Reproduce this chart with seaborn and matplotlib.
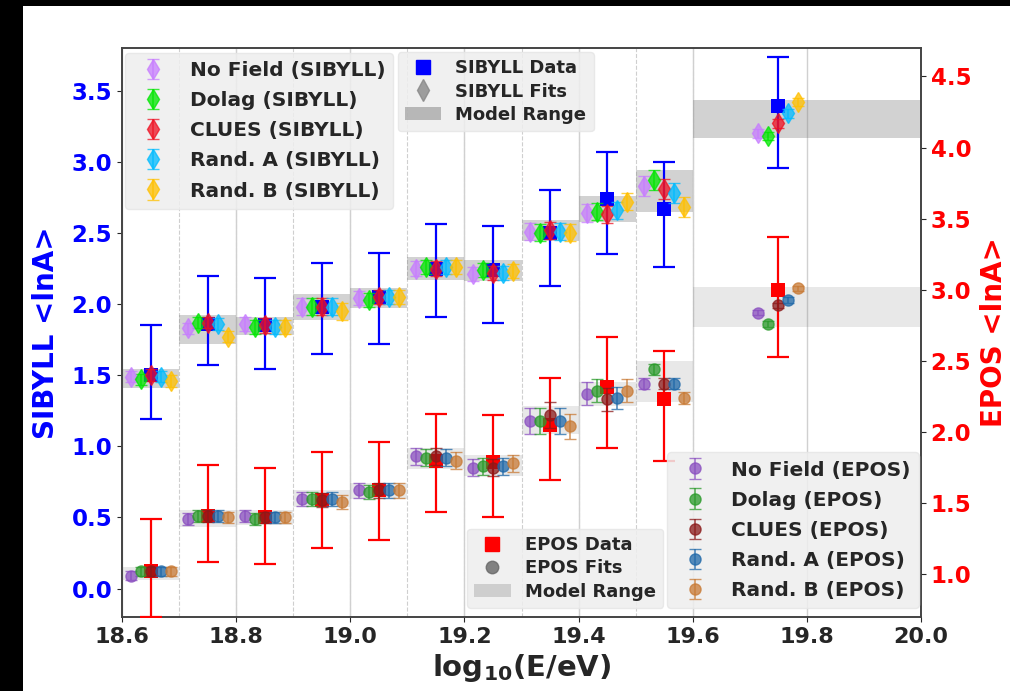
import numpy as np
import matplotlib
matplotlib.use('Agg')
import matplotlib.pyplot as plt
import seaborn as sns
from matplotlib.lines import Line2D
from matplotlib.patches import Patch, Rectangle

sns.set_style('ticks')
plt.rcParams['font.family'] = ['DejaVu Sans']
plt.rcParams['font.weight'] = 'bold'

# energy bins (log10 E/eV)
bin_lo = [18.6, 18.7, 18.8, 18.9, 19.0, 19.1, 19.2, 19.3, 19.4, 19.5, 19.6]
bin_hi = [18.7, 18.8, 18.9, 19.0, 19.1, 19.2, 19.3, 19.4, 19.5, 19.6, 20.0]
x_center = [18.65, 18.75, 18.85, 18.95, 19.05, 19.15, 19.25, 19.35, 19.45, 19.55, 19.75]

models = ['No Field', 'Dolag', 'CLUES', 'Rand. A', 'Rand. B']
offsets = [-0.035, -0.0175, 0.0, 0.0175, 0.035]

# SIBYLL data (left axis)
sib_data = [1.50, 1.86, 1.85, 1.98, 2.05, 2.25, 2.24, 2.50, 2.74, 2.67, 3.39]
sib_err_up = [0.35, 0.34, 0.33, 0.31, 0.31, 0.31, 0.31, 0.30, 0.33, 0.33, 0.35]
sib_err_dn = [0.31, 0.29, 0.31, 0.33, 0.33, 0.34, 0.37, 0.37, 0.39, 0.41, 0.43]

# SIBYLL fits per model
sib_nofield = [1.49, 1.83, 1.86, 1.98, 2.04, 2.25, 2.21, 2.51, 2.64, 2.83, 3.20]
sib_dolag = [1.47, 1.87, 1.84, 1.98, 2.03, 2.26, 2.24, 2.50, 2.65, 2.87, 3.18]
sib_clues = [1.50, 1.87, 1.85, 1.98, 2.05, 2.25, 2.22, 2.52, 2.63, 2.81, 3.27]
sib_randa = [1.49, 1.86, 1.84, 1.98, 2.05, 2.26, 2.22, 2.51, 2.66, 2.78, 3.34]
sib_randb = [1.46, 1.77, 1.84, 1.95, 2.05, 2.26, 2.23, 2.50, 2.72, 2.68, 3.42]
sib_fit_err = [0.04, 0.04, 0.05, 0.06, 0.05, 0.05, 0.05, 0.06, 0.06, 0.07, 0.03]
sib_band_lo = [1.41, 1.72, 1.78, 1.89, 1.97, 2.17, 2.165, 2.44, 2.58, 2.65, 3.165]
sib_band_hi = [1.54, 1.92, 1.91, 2.07, 2.11, 2.33, 2.31, 2.59, 2.76, 2.94, 3.435]

# EPOS data (right axis)
epos_data = [1.02, 1.41, 1.40, 1.52, 1.59, 1.80, 1.79, 2.05, 2.315, 2.23, 3.00]
epos_err_up = [0.37, 0.36, 0.35, 0.34, 0.34, 0.33, 0.33, 0.33, 0.35, 0.34, 0.37]
epos_err_dn = [0.32, 0.32, 0.33, 0.335, 0.35, 0.36, 0.39, 0.39, 0.43, 0.43, 0.47]

# EPOS fits per model
epos_nofield = [0.99, 1.39, 1.41, 1.53, 1.59, 1.83, 1.75, 2.08, 2.27, 2.34, 2.84]
epos_dolag = [1.02, 1.41, 1.39, 1.53, 1.58, 1.82, 1.76, 2.08, 2.29, 2.44, 2.76]
epos_clues = [1.02, 1.41, 1.40, 1.52, 1.59, 1.83, 1.75, 2.12, 2.23, 2.34, 2.89]
epos_randa = [1.02, 1.41, 1.40, 1.53, 1.59, 1.82, 1.76, 2.08, 2.24, 2.34, 2.93]
epos_randb = [1.02, 1.40, 1.40, 1.51, 1.59, 1.80, 1.78, 2.04, 2.29, 2.24, 3.01]
epos_fit_err = [0.03, 0.04, 0.04, 0.05, 0.05, 0.06, 0.06, 0.09, 0.08, 0.04, 0.02]
epos_band_lo = [0.96, 1.33, 1.35, 1.47, 1.53, 1.74, 1.69, 1.99, 2.18, 2.21, 2.74]
epos_band_hi = [1.05, 1.45, 1.45, 1.59, 1.64, 1.89, 1.84, 2.18, 2.35, 2.50, 3.02]

sib_fits = [sib_nofield, sib_dolag, sib_clues, sib_randa, sib_randb]
epos_fits = [epos_nofield, epos_dolag, epos_clues, epos_randa, epos_randb]
sib_colors = ['#c77dff', '#00e600', '#ee1122', '#00bbff', '#ffc000']
epos_colors = ['#8a4fc0', '#2a9a2a', '#8b1a1a', '#1f68a8', '#c87a35']

fig = plt.figure(figsize=(10.1, 6.91), dpi=100, facecolor='black')
fig.patches.append(Rectangle((23 / 1010, 0), 1, 685 / 691, transform=fig.transFigure,
                             facecolor='white', edgecolor='none', zorder=-10))
ax = fig.add_axes([0.1208, 0.1071, 0.7911, 0.8234])
ax2 = ax.twinx()
xc = np.array(x_center)

# grid and bin edges
ax.set_xticks(np.arange(18.6, 20.01, 0.2))
ax.grid(axis='x', color='#d0d0d0', lw=1.0, zorder=0)
for e in bin_hi[:-1]:
    ax.axvline(e, color='#cfcfcf', ls='--', lw=0.8, zorder=0)

# model range bands
for i in range(len(x_center)):
    ax.fill_between([bin_lo[i], bin_hi[i]], sib_band_lo[i], sib_band_hi[i],
                    color='gray', alpha=0.35, lw=0, zorder=1)
    ax2.fill_between([bin_lo[i], bin_hi[i]], epos_band_lo[i], epos_band_hi[i],
                     color='gray', alpha=0.18, lw=0, zorder=1)

# SIBYLL data
ax.errorbar(xc, sib_data, yerr=[sib_err_dn, sib_err_up], fmt='none', ecolor='blue',
            elinewidth=1.6, capsize=8, capthick=1.6, zorder=3)
sns.scatterplot(x=xc, y=sib_data, marker='s', color='blue', s=100, linewidth=0,
                ax=ax, zorder=4, legend=False)

sib_handles = []
for i, m in enumerate(models):
    h = ax.errorbar(xc + offsets[i], sib_fits[i], yerr=sib_fit_err, fmt='d',
                    color=sib_colors[i], markersize=10, capsize=4, alpha=0.75,
                    elinewidth=1.2, label=f'{m} (SIBYLL)', zorder=5)
    sib_handles.append(h)

# EPOS data
ax2.errorbar(xc, epos_data, yerr=[epos_err_dn, epos_err_up], fmt='none', ecolor='red',
             elinewidth=1.6, capsize=8, capthick=1.6, zorder=3)
sns.scatterplot(x=xc, y=epos_data, marker='s', color='red', s=100, linewidth=0,
                ax=ax2, zorder=4, legend=False)

epos_handles = []
for i, m in enumerate(models):
    h = ax2.errorbar(xc + offsets[i], epos_fits[i], yerr=epos_fit_err, fmt='o',
                     color=epos_colors[i], markersize=8, capsize=4, alpha=0.75,
                     elinewidth=1.2, label=f'{m} (EPOS)', zorder=5)
    epos_handles.append(h)

# axes
ax.set_xlim(18.6, 20.0)
ax.set_ylim(-0.2, 3.8)
ax2.set_ylim(0.7, 4.7)
ax.set_yticks(np.arange(0, 3.51, 0.5))
ax2.set_yticks(np.arange(1.0, 4.51, 0.5))
ax.set_xlabel(r'$\mathbf{log_{10}(E/eV)}$', fontsize=21, labelpad=4)
ax.set_ylabel('SIBYLL <lnA>', color='blue', fontsize=20, fontweight='bold', labelpad=8)
ax2.set_ylabel('EPOS <lnA>', color='red', fontsize=20, fontweight='bold', labelpad=6)
ax.tick_params(axis='x', labelsize=16)
ax.tick_params(axis='y', labelsize=16.5, labelcolor='blue')
ax2.tick_params(axis='y', labelsize=16.5, labelcolor='red')
for a in (ax, ax2):
    for s in a.spines.values():
        s.set_color('#444444')
        s.set_linewidth(1.2)

leg_kw = dict(facecolor='#eeeeee', edgecolor='#e6e6e6', framealpha=0.85, borderaxespad=0)

leg1 = ax.legend(handles=sib_handles, loc='upper left', bbox_to_anchor=(0.004, 0.991),
                 fontsize=14.5, labelspacing=0.55, **leg_kw)
ax.add_artist(leg1)
sib_key = [Line2D([], [], marker='s', color='blue', ls='', markersize=10),
           Line2D([], [], marker='d', color='#888888', alpha=0.8, ls='', markersize=11),
           Patch(facecolor='gray', alpha=0.5, edgecolor='none')]
ax.legend(handles=sib_key, labels=['SIBYLL Data', 'SIBYLL Fits', 'Model Range'],
          loc='upper left', bbox_to_anchor=(0.345, 0.993), fontsize=13, labelspacing=0.3,
          **leg_kw)

leg3 = ax2.legend(handles=epos_handles, loc='lower right', bbox_to_anchor=(0.997, 0.016),
                  fontsize=14.5, labelspacing=0.55, **leg_kw)
ax2.add_artist(leg3)
epos_key = [Line2D([], [], marker='s', color='red', ls='', markersize=10),
            Line2D([], [], marker='o', color='#666666', alpha=0.8, ls='', markersize=9),
            Patch(facecolor='gray', alpha=0.3, edgecolor='none')]
ax2.legend(handles=epos_key, labels=['EPOS Data', 'EPOS Fits', 'Model Range'],
           loc='lower left', bbox_to_anchor=(0.432, 0.016), fontsize=13, labelspacing=0.3,
           **leg_kw)

fig.savefig('out.png', dpi=100, facecolor=fig.get_facecolor())
